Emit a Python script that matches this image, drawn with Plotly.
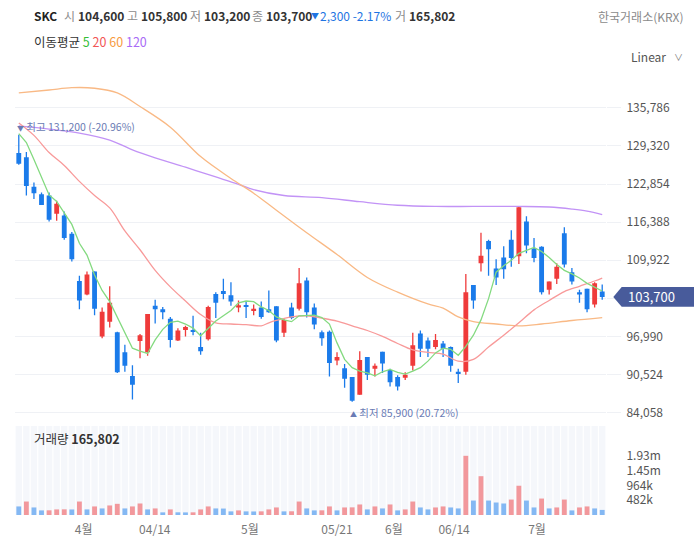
import plotly.graph_objects as go

# ---------------- data ----------------
opens = [128100, 127400, 122400, 121100, 120900, 117800, 117500, 114400, 106400, 104100,
         108000, 97000, 99500, 97700, 94300, 90300, 96200, 94300, 102200, 101600,
         100000, 96300, 98100, 98000, 95200, 96500, 104200, 104700, 104000, 101900,
         102300, 101300, 101900, 101600, 102100, 97600, 101900, 101700, 106500, 101900,
         97700, 97800, 92900, 91600, 90100, 87100, 93500, 91500, 94400, 91300,
         90100, 90000, 92000, 97500, 96300, 95200, 95800, 95200, 91000, 91000,
         105700, 109400, 113200, 108500, 110400, 113400, 110600, 116500, 111900, 112200,
         104900, 106800, 114500, 107900, 104500, 105100, 102400, 104600]
highs = [131200, 128300, 123100, 121400, 121400, 120000, 118200, 114700, 107300, 108000,
         108000, 101900, 105500, 97800, 95600, 92100, 97400, 100800, 103200, 102000,
         100300, 98400, 98800, 100500, 97600, 102200, 104500, 106800, 106200, 103100,
         103000, 102400, 102900, 104800, 102100, 100100, 102700, 108600, 107000, 102600,
         98000, 98000, 94300, 92300, 90100, 94500, 93500, 92400, 94400, 91500,
         90400, 90900, 97600, 98000, 96800, 97400, 96200, 95300, 91500, 107600,
         105700, 114600, 113400, 110100, 112300, 115000, 119100, 117400, 113700, 112300,
         106300, 109400, 115500, 108600, 104900, 105100, 106200, 105800]
lows = [126100, 120900, 120300, 119300, 116500, 116600, 113400, 109700, 101600, 104000,
        100600, 96700, 98500, 90800, 91000, 86300, 93300, 93700, 99200, 99900,
        95100, 96200, 97000, 97200, 93900, 96300, 100100, 103300, 102200, 101100,
        100100, 100600, 100000, 101000, 96000, 96900, 99900, 101400, 100200, 98200,
        95400, 90200, 92100, 88300, 85900, 87100, 89600, 90200, 90800, 88500,
        87800, 89600, 91200, 93500, 93500, 94800, 93500, 91000, 89100, 90500,
        101700, 108000, 107300, 105700, 106800, 108800, 109300, 111100, 109600, 104100,
        104100, 105900, 108700, 105800, 102700, 101100, 101900, 103200]
closes = [126300, 122500, 121300, 119300, 116800, 119500, 113700, 110100, 103100, 107500,
          101700, 101200, 102700, 90900, 92000, 88800, 97200, 100800, 101600, 101100,
          96400, 98000, 98600, 97800, 94500, 102000, 102700, 104200, 102900, 102300,
          102100, 101700, 100300, 101100, 96300, 99800, 100100, 106000, 101100, 99000,
          96700, 92500, 93500, 89800, 86100, 93000, 90500, 92000, 92400, 89200,
          88500, 90500, 95500, 94900, 94900, 96400, 94900, 92000, 90600, 104500,
          103100, 110700, 111800, 107000, 108400, 110300, 118900, 112400, 110300, 104500,
          106300, 108800, 109200, 106300, 104100, 101600, 106000, 103700]
volumes = [279000, 439000, 246000, 150000, 153000, 182000, 185000, 180000, 439000, 182000,
           279000, 214000, 311000, 364000, 214000, 279000, 375000, 182000, 214000, 86000,
           182000, 88000, 85000, 87000, 182000, 279000, 214000, 210000, 118000, 150000,
           118000, 115000, 119000, 182000, 246000, 118000, 121000, 439000, 214000, 150000,
           152000, 279000, 150000, 246000, 249000, 343000, 182000, 279000, 214000, 343000,
           150000, 182000, 439000, 246000, 182000, 246000, 279000, 246000, 214000, 1928000,
           471000, 1264000, 471000, 407000, 375000, 503000, 953000, 471000, 246000, 536000,
           214000, 246000, 503000, 150000, 246000, 279000, 214000, 165802]

ma5 = [131400, 129900, 127000, 123900, 121000, 119900, 117900, 116000, 112800, 110800,
       107400, 104800, 102900, 100300, 97600, 95000, 94500, 94100, 96400, 98200,
       99400, 99600, 99100, 98400, 97100, 98400, 99600, 100500, 101400, 102700,
       103000, 102900, 102000, 101400, 100300, 99800, 99500, 100500, 100600, 100600,
       100200, 99100, 95900, 93100, 91700, 91100, 90800, 90300, 91000, 91400,
       90900, 90600, 91100, 91700, 92800, 94200, 95000, 94800, 93800, 95300,
       97200, 99800, 103400, 107900, 109000, 109900, 111100, 111600, 112100, 111400,
       110400, 109200, 108200, 107600, 106900, 106000, 105300, 104700]
ma20_idx = [0, 2, 4, 6, 8, 10, 12, 14, 16, 18, 20, 22, 24, 26, 28, 30, 32, 33, 34, 36,
            38, 40, 42, 44, 46, 48, 50, 52, 54, 56, 58, 60, 62, 64, 66, 68, 70, 72, 74, 76, 77]
ma20 = [133200, 131100, 128200, 126000, 123300, 120900, 118800, 114900, 111700, 108200,
        105400, 103000, 100700, 99300, 99100, 99000, 98800, 99300, 99700, 100300,
        100500, 100100, 99600, 98800, 98000, 97000, 95800, 94700, 94300, 94000,
        92800, 93100, 95200, 97200, 99300, 101500, 103100, 104600, 105500, 106400, 106900]
ma60_idx = [0, 4, 7, 10, 13, 16, 20, 24, 28, 31, 34, 38, 42, 46, 50, 54, 56, 58, 60, 63,
            66, 69, 73, 77]
ma60 = [138300, 138800, 139200, 139100, 138300, 136000, 132500, 127500, 123800, 121300,
        118400, 114600, 110900, 107000, 104500, 102500, 101800, 100300, 99500, 99100,
        98800, 99100, 99700, 100200]
ma120_idx = [0, 4, 8, 12, 15, 18, 22, 26, 29, 31, 35, 40, 45, 50, 55, 60, 66, 70, 73, 75, 77]
ma120 = [132700, 132150, 131500, 130300, 128650, 127300, 125700, 124050, 122800, 121900,
         120900, 120550, 119850, 119250, 119050, 119050, 119050, 118950, 118600, 118250, 117650]

tick_pos = [8.55, 17.95, 30.5, 42.0, 49.5, 57.45, 68.4]
tick_text = ["4월", "04/14", "5월", "05/21", "6월", "06/14", "7월"]
price_ticks = [84058, 90524, 96990, 103456, 109922, 116388, 122854, 129320, 135786]

# ---------------- style ----------------
W, H = 694, 549
L, R, T, B = 15, 88, 70, 28
PW, PH = W - L - R, H - T - B
B_ADJ = 4          # compensation so the plot bottom lands at y = H - B
FONT = "Noto Sans CJK KR, Noto Sans, sans-serif"
UP, DOWN = "#EF3B3B", "#1B7BEA"
VUP, VDOWN = "#F2989C", "#84B8F3"
GRID = "#EFF1F5"
C5, C20, C60, C120 = "#84DA80", "#F89A9A", "#F9B985", "#C293F6"

def pxx(x):
    return (x - L) / PW

def pyy(y):
    return (H - B - y) / PH

n = len(closes)
idx = list(range(n))

price_dom = [(H - B - 425) / PH, 1.0]
price_rng = [82769, 142196]
vol_dom = [0.0, 0.2]
vmax = max(volumes)
vol_top = vmax * (0.2 * PH) / 60.0
last = closes[-1]

fig = go.Figure()

# wicks
for col, cond in ((UP, True), (DOWN, False)):
    xs, ys = [], []
    for i in idx:
        if (closes[i] >= opens[i]) == cond:
            xs += [i, i, None]
            ys += [lows[i], highs[i], None]
    fig.add_trace(go.Scatter(x=xs, y=ys, mode="lines", line=dict(color=col, width=1.3),
                             hoverinfo="skip", xaxis="x", yaxis="y"))

# bodies
fig.add_trace(go.Bar(
    x=idx,
    y=[max(abs(c - o), 130) for o, c in zip(opens, closes)],
    base=[min(o, c) for o, c in zip(opens, closes)],
    marker=dict(color=[UP if c >= o else DOWN for o, c in zip(opens, closes)], line=dict(width=0)),
    width=0.64, xaxis="x", yaxis="y"))

# moving averages
fig.add_trace(go.Scatter(x=ma120_idx, y=ma120, mode="lines", line=dict(color=C120, width=1.3, shape="spline"),
                         xaxis="x", yaxis="y"))
fig.add_trace(go.Scatter(x=ma60_idx, y=ma60, mode="lines", line=dict(color=C60, width=1.3, shape="spline"),
                         xaxis="x", yaxis="y"))
fig.add_trace(go.Scatter(x=ma20_idx, y=ma20, mode="lines", line=dict(color=C20, width=1.3, shape="spline"),
                         xaxis="x", yaxis="y"))
fig.add_trace(go.Scatter(x=idx, y=ma5, mode="lines", line=dict(color=C5, width=1.3),
                         xaxis="x", yaxis="y"))

# volume background stripes and bars
fig.add_trace(go.Bar(x=idx, y=[vol_top] * n, marker=dict(color="#F5F7FB", line=dict(width=0)),
                     width=0.84, xaxis="x2", yaxis="y2", hoverinfo="skip"))
vcols = [VDOWN] + [VUP if volumes[i] > volumes[i - 1] else VDOWN for i in range(1, n)]
fig.add_trace(go.Bar(x=idx, y=volumes, marker=dict(color=vcols, line=dict(width=0)),
                     width=0.64, xaxis="x2", yaxis="y2"))

def vfmt(v):
    return f"{v / 1e6:.2f}m" if v >= 1e6 else f"{v / 1e3:.0f}k"

vticks = [vmax * f for f in (0.25, 0.5, 0.75, 1.0)]

# hidden behind the last-price tag in the reference
units_per_px = (price_rng[1] - price_rng[0]) / ((price_dom[1] - price_dom[0]) * PH)
hh = 10 * units_per_px
price_labels = ["" if abs(v - last) < hh else f"{v:,}" for v in price_ticks]

fig.update_layout(
    width=W, height=H, margin=dict(l=L, r=R, t=T, b=B - B_ADJ),
    paper_bgcolor="white", plot_bgcolor="white", showlegend=False,
    barmode="overlay", font=dict(family=FONT, size=12, color="#333"),
    xaxis=dict(domain=[0, 1], range=[-0.5, n - 0.5], anchor="y", showticklabels=False,
               showgrid=False, zeroline=False, showline=False, ticks=""),
    yaxis=dict(domain=price_dom, range=price_rng, side="right", anchor="x",
               tickvals=price_ticks, ticktext=price_labels,
               showgrid=True, gridcolor=GRID, gridwidth=1, zeroline=False, showline=False,
               ticks="outside", ticklen=14, tickcolor=GRID, tickwidth=1, ticklabelstandoff=3,
               tickfont=dict(size=12, color="#555")),
    xaxis2=dict(domain=[0, 1], range=[-0.5, n - 0.5], anchor="y2",
                tickvals=tick_pos, ticktext=tick_text, showgrid=False, zeroline=False,
                showline=False, ticks="outside", ticklen=4, tickcolor="rgba(0,0,0,0)",
                tickfont=dict(size=12, color="#777")),
    yaxis2=dict(domain=vol_dom, range=[0, vol_top], side="right", anchor="x2",
                tickvals=vticks, ticktext=[vfmt(v) for v in vticks],
                showgrid=False, zeroline=False, showline=False,
                ticks="outside", ticklen=14, tickcolor="rgba(0,0,0,0)", ticklabelstandoff=3,
                tickfont=dict(size=12, color="#555")),
)

ann = []
GRAY = "#8C8C8C"
BLUE = "#1E74E2"
chg = closes[-1] - closes[-2]
pct = chg / closes[-2] * 100
header = [
    ("<b>SKC</b>", 32, "#222"),
    ("시", 62, GRAY), (f"<b>{opens[-1]:,}</b>", 76, "#333"),
    ("고", 125, GRAY), (f"<b>{highs[-1]:,}</b>", 139, "#333"),
    ("저", 188, GRAY), (f"<b>{lows[-1]:,}</b>", 202, "#333"),
    ("종", 250, GRAY), (f"<b>{closes[-1]:,}</b>", 264, "#333"),
    ("<span style='font-size:8px'>" + ("▼" if chg < 0 else "▲") + "</span>", 309, BLUE),
    (f"{abs(chg):,} {pct:.2f}%", 318, BLUE),
    ("거", 393, GRAY), (f"<b>{volumes[-1]:,}</b>", 407, "#333"),
]
for txt, x, col in header:
    ann.append(dict(text=txt, x=pxx(x), y=pyy(15), xref="paper", yref="paper",
                    xanchor="left", yanchor="middle", showarrow=False,
                    font=dict(size=12, color=col)))

ann.append(dict(text=(f"이동평균 <span style='color:#35BE35'>5</span> "
                      f"<span style='color:#F25555'>20</span> "
                      f"<span style='color:#F79A3E'>60</span> "
                      f"<span style='color:#A86BF6'>120</span>"),
                x=pxx(32), y=pyy(41), xref="paper", yref="paper", xanchor="left",
                yanchor="middle", showarrow=False, font=dict(size=12.5, color="#333")))
ann.append(dict(text="한국거래소(KRX)", x=pxx(686), y=pyy(16), xref="paper", yref="paper",
                xanchor="right", yanchor="middle", showarrow=False,
                font=dict(size=12, color="#8A8A8A")))
ann.append(dict(text="Linear", x=pxx(668), y=pyy(56), xref="paper", yref="paper",
                xanchor="right", yanchor="middle", showarrow=False,
                font=dict(size=12, color="#555")))
ann.append(dict(text="∨", x=pxx(678), y=pyy(57), xref="paper", yref="paper",
                xanchor="center", yanchor="middle", showarrow=False,
                font=dict(size=9, color="#777")))
ann.append(dict(text=f"거래량 <b>{volumes[-1]:,}</b>", x=pxx(32), y=pyy(443),
                xref="paper", yref="paper", xanchor="left", yanchor="middle",
                showarrow=False, font=dict(size=12.5, color="#333")))

# max / min markers
imax = max(idx, key=lambda i: highs[i])
imin = min(idx, key=lambda i: lows[i])
MK = "#6A7BB4"
ann.append(dict(text=(f"<span style='font-size:7px'>▼</span> 최고 {highs[imax]:,} "
                      f"({(closes[-1] / highs[imax] - 1) * 100:.2f}%)"),
                x=imax, y=highs[imax], xref="x", yref="y", xanchor="left", yanchor="bottom",
                xshift=-4, yshift=-1, showarrow=False, font=dict(size=10.5, color=MK)))
ann.append(dict(text=(f"<span style='font-size:7px'>▲</span> 최저 {lows[imin]:,} "
                      f"({(closes[-1] / lows[imin] - 1) * 100:.2f}%)"),
                x=imin, y=lows[imin], xref="x", yref="y", xanchor="left", yanchor="top",
                xshift=-4, yshift=-1, showarrow=False, font=dict(size=10.5, color=MK)))

# last price tag
TAG = "#485B9B"
x0, x1, x2 = pxx(613.3), pxx(621.7), pxx(700)
fig.add_shape(type="path", xref="paper", yref="y", layer="above",
              path=f"M {x1},{last + hh} L {x2},{last + hh} L {x2},{last - hh} L {x1},{last - hh} L {x0},{last} Z",
              fillcolor=TAG, line=dict(width=0))
ann.append(dict(text=f"{last:,}", x=pxx(625.5), y=last, xref="paper", yref="y",
                xanchor="left", yanchor="middle", showarrow=False,
                font=dict(size=13, color="white")))

fig.update_layout(annotations=ann)
fig.write_html("out.html")
